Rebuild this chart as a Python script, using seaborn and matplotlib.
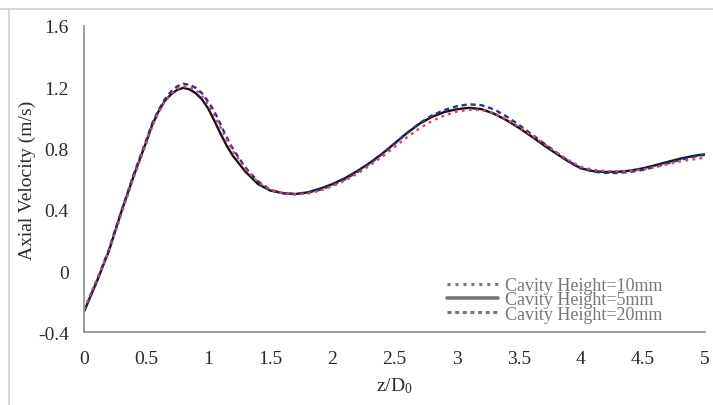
import numpy as np
import pandas as pd
import matplotlib
matplotlib.use('Agg')
import matplotlib.pyplot as plt
from matplotlib.lines import Line2D
import seaborn as sns

# axial position z/D0 and axial velocity (m/s)
z = [0.0, 0.1, 0.2, 0.3, 0.4, 0.5, 0.55, 0.6, 0.65, 0.7, 0.75, 0.8, 0.85, 0.9, 0.95,
     1.0, 1.05, 1.1, 1.15, 1.2, 1.3, 1.4, 1.5, 1.6, 1.7, 1.8, 1.9,
     2.0, 2.1, 2.2, 2.3, 2.4, 2.5, 2.6, 2.7, 2.8, 2.9,
     3.0, 3.1, 3.2, 3.3, 3.4, 3.5, 3.6, 3.7, 3.8, 3.9,
     4.0, 4.1, 4.2, 4.3, 4.4, 4.5, 4.6, 4.7, 4.8, 4.9, 5.0]

vel_5mm = [-0.265, -0.075, 0.13, 0.385, 0.62, 0.84, 0.955, 1.04, 1.11, 1.152, 1.182, 1.195, 1.185, 1.16, 1.12,
           1.06, 0.98, 0.895, 0.816, 0.75, 0.648, 0.568, 0.525, 0.508, 0.502, 0.513, 0.537,
           0.567, 0.605, 0.652, 0.705, 0.765, 0.832, 0.90, 0.96, 1.005, 1.037,
           1.055, 1.065, 1.056, 1.027, 0.985, 0.935, 0.88, 0.822, 0.767, 0.715,
           0.67, 0.652, 0.646, 0.647, 0.655, 0.67, 0.69, 0.712, 0.733, 0.75, 0.762]

vel_10mm = [-0.25, -0.06, 0.13, 0.37, 0.61, 0.83, 0.945, 1.035, 1.105, 1.155, 1.19, 1.205, 1.2, 1.18, 1.14,
            1.085, 1.015, 0.935, 0.855, 0.78, 0.665, 0.58, 0.53, 0.508, 0.50, 0.505, 0.525,
            0.553, 0.59, 0.635, 0.688, 0.745, 0.808, 0.872, 0.93, 0.978, 1.015,
            1.04, 1.052, 1.05, 1.03, 0.99, 0.942, 0.888, 0.832, 0.776, 0.724,
            0.68, 0.66, 0.652, 0.65, 0.654, 0.663, 0.678, 0.697, 0.715, 0.728, 0.74]

vel_20mm = [-0.26, -0.07, 0.14, 0.39, 0.63, 0.85, 0.965, 1.05, 1.12, 1.17, 1.205, 1.222, 1.215, 1.195, 1.16,
            1.105, 1.04, 0.955, 0.87, 0.795, 0.675, 0.585, 0.53, 0.508, 0.502, 0.51, 0.53,
            0.56, 0.598, 0.645, 0.70, 0.762, 0.83, 0.90, 0.963, 1.015, 1.05,
            1.075, 1.088, 1.082, 1.055, 1.01, 0.955, 0.895, 0.835, 0.775, 0.718,
            0.672, 0.648, 0.64, 0.64, 0.647, 0.66, 0.68, 0.703, 0.725, 0.745, 0.758]

labels = ['Cavity Height=10mm', 'Cavity Height=5mm', 'Cavity Height=20mm']
x_ticks = [0, 0.5, 1, 1.5, 2, 2.5, 3, 3.5, 4, 4.5, 5]
y_ticks = [-0.4, 0, 0.4, 0.8, 1.2, 1.6]

df = pd.concat([
    pd.DataFrame({'z': z, 'vel': vel_5mm, 'case': labels[1]}),
    pd.DataFrame({'z': z, 'vel': vel_20mm, 'case': labels[2]}),
    pd.DataFrame({'z': z, 'vel': vel_10mm, 'case': labels[0]}),
])

sns.set_style('white')
plt.rcParams['font.family'] = ['Liberation Serif', 'DejaVu Serif']
plt.rcParams['mathtext.fontset'] = 'custom'
plt.rcParams['mathtext.rm'] = 'Liberation Serif'
plt.rcParams['mathtext.it'] = 'Liberation Serif:italic'

axis_grey = '#8c8c8c'
text_col = '#2b2b2b'
leg_grey = '#76767e'

palette = {labels[1]: '#151515', labels[2]: '#2b3585', labels[0]: '#d24a66'}
dashes = {labels[1]: '', labels[2]: (2.2, 1.6), labels[0]: (1.2, 1.8)}

fig = plt.figure(figsize=(7.13, 4.06), dpi=100)
ax = fig.add_axes([0.1178, 0.179, 0.871, 0.755])

sns.lineplot(data=df, x='z', y='vel', hue='case', style='case', palette=palette,
             dashes=dashes, hue_order=[labels[1], labels[2], labels[0]],
             linewidth=1.7, legend=False, ax=ax, sort=False)

ax.set_xlim(0, 5)
ax.set_ylim(-0.4, 1.6)
ax.set_xticks(x_ticks)
ax.set_xticklabels(['0', '0.5', '1', '1.5', '2', '2.5', '3', '3.5', '4', '4.5', '5'])
ax.set_yticks(y_ticks)
ax.set_yticklabels(['-0.4', '0', '0.4', '0.8', '1.2', '1.6'])
ax.tick_params(axis='x', direction='inout', length=7, width=1, color=axis_grey,
               labelsize=14, labelcolor=text_col, pad=9)
ax.tick_params(axis='y', direction='out', length=5, width=1, color=axis_grey,
               labelsize=14, labelcolor=text_col, pad=6)

for s in ['top', 'right']:
    ax.spines[s].set_visible(False)
for s in ['left', 'bottom']:
    ax.spines[s].set_color(axis_grey)
    ax.spines[s].set_linewidth(1.2)

ax.set_xlabel(r'z/D$_{\mathrm{0}}$', fontsize=14, color=text_col, labelpad=6)
ax.set_ylabel('Axial Velocity (m/s)', fontsize=14, color=text_col, labelpad=1)

handles = [
    Line2D([], [], color=leg_grey, lw=2.2, linestyle=(0, (1.0, 1.6))),
    Line2D([], [], color=leg_grey, lw=2.6, linestyle='-'),
    Line2D([], [], color=leg_grey, lw=2.2, linestyle=(0, (1.3, 1.2))),
]
leg = ax.legend(handles=handles, labels=labels, loc='upper left',
                bbox_to_anchor=(0.585, 0.18), frameon=False, fontsize=13,
                handlelength=2.8, handletextpad=0.4, labelspacing=-0.15,
                borderpad=0, borderaxespad=0)
for t in leg.get_texts():
    t.set_color(leg_grey)

# faint scan frame along the top and left edge
fig.add_artist(Line2D([0.0, 1.0], [1 - 10 / 406, 1 - 10 / 406], color='#cfcfcf', lw=1.2))
fig.add_artist(Line2D([9 / 713, 9 / 713], [0.0, 1 - 10 / 406], color='#cfcfcf', lw=1.2))

fig.savefig('out.png', dpi=100)
